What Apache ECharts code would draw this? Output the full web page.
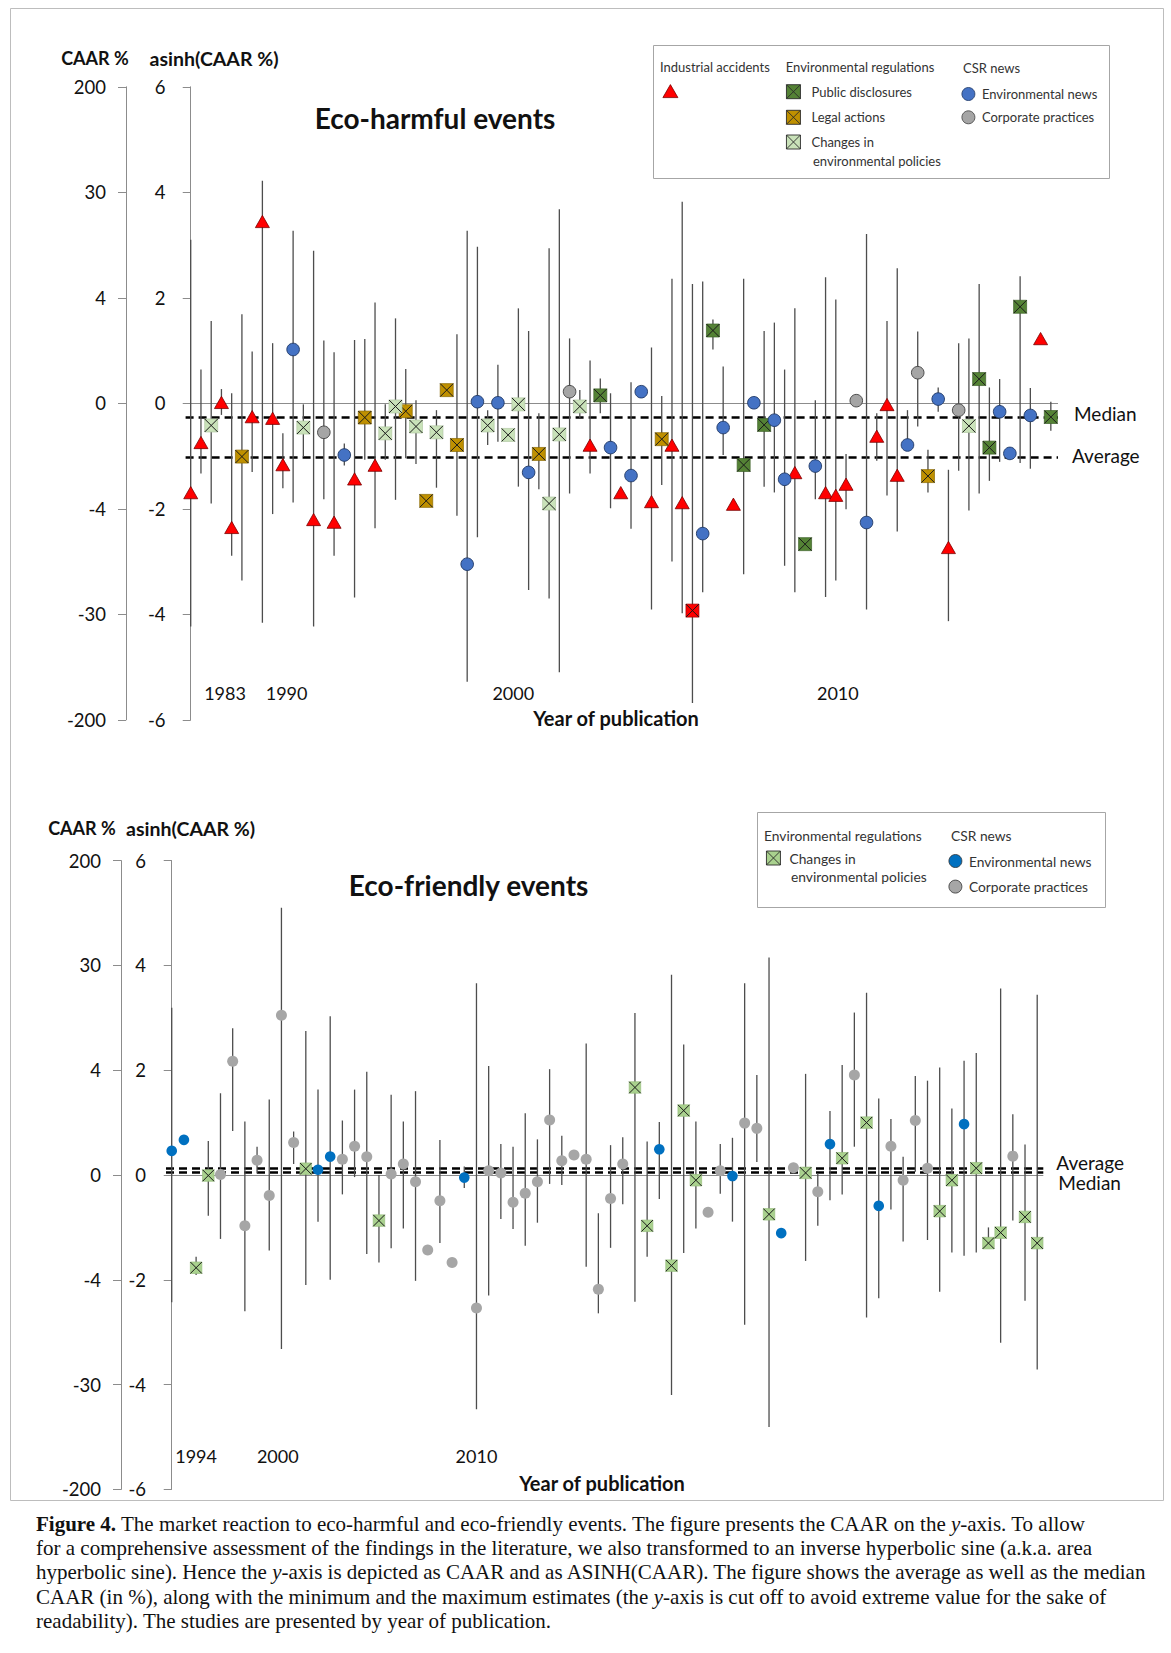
<!DOCTYPE html>
<html><head><meta charset="utf-8">
<script src="https://cdn.jsdelivr.net/npm/echarts@6/dist/echarts.min.js"></script>
<style>
html,body{margin:0;padding:0;background:#fff;}
#chart{position:absolute;left:0;top:0;width:1171px;height:1653px;}
#caption{position:absolute;left:36px;top:1512px;font-family:"Liberation Serif","DejaVu Serif",serif;font-size:21px;line-height:24.2px;color:#111;white-space:nowrap;}
</style></head><body>
<div id="chart"></div>
<div id="caption">
<div><b>Figure 4.</b> The market reaction to eco-harmful and eco-friendly events. The figure presents the CAAR on the <i>y</i>-axis. To allow</div>
<div>for a comprehensive assessment of the findings in the literature, we also transformed to an inverse hyperbolic sine (a.k.a. area</div>
<div>hyperbolic sine). Hence the <i>y</i>-axis is depicted as CAAR and as ASINH(CAAR). The figure shows the average as well as the median</div>
<div>CAAR (in %), along with the minimum and the maximum estimates (the <i>y</i>-axis is cut off to avoid extreme value for the sake of</div>
<div>readability). The studies are presented by year of publication.</div>
</div>
<script>
// ---------- Y axis ticks ----------
const asinhTicks = [-6, -4, -2, 0, 2, 4, 6];
const caarTicks  = ['-200', '-30', '-4', '0', '4', '30', '200'];

// ---------- Eco-harmful events (asinh of CAAR %) ----------
// A = industrial accident, P = public disclosure, L = legal action,
// C = change in environmental policy, N = environmental news, K = corporate practice, R = accident (square)
const harmType = ['A','A','C','A','A','L','A','A','A','A', 'N','C','A','K','A','N','A','L','A','C',
                  'C','L','C','L','C','L','L','N','N','C', 'N','C','C','N','L','C','C','K','C','A',
                  'P','N','A','N','N','A','L','A','A','R', 'N','P','N','A','P','N','P','N','N','A',
                  'P','N','A','A','A','K','N','A','A','A', 'N','K','L','N','A','K','C','P','P','N',
                  'N','P','N','A','P'];
const harmCAAR = [-1.71,-0.76,-0.42,0.00,-2.37,-1.01,-0.27,3.43,-0.30,-1.18,
                  1.02,-0.46,-2.22,-0.55,-2.27,-0.98,-1.45,-0.27,-1.19,-0.57,
                  -0.06,-0.15,-0.44,-1.85,-0.55,0.25,-0.79,-3.05,0.03,-0.42,
                  0.01,-0.60,-0.02,-1.31,-0.96,-1.90,-0.59,0.22,-0.06,-0.81,
                  0.15,-0.84,-1.71,-1.37,0.22,-1.88,-0.68,-0.81,-1.90,-3.93,
                  -2.47,1.38,-0.46,-1.93,-1.17,0.01,-0.41,-0.32,-1.44,-1.33,
                  -2.67,-1.19,-1.71,-1.76,-1.55,0.05,-2.26,-0.64,-0.04,-1.38,
                  -0.79,0.58,-1.38,0.08,-2.75,-0.13,-0.43,0.46,-0.84,-0.16,
                  -0.95,1.83,-0.23,1.21,-0.26];
const harmMax  = [3.10,0.64,1.56,0.27,0.19,1.69,0.98,4.22,1.14,-0.57,
                  3.27,-0.02,2.89,1.19,0.97,-0.76,1.20,1.22,1.91,-0.02,
                  1.61,0.65,0.06,null,-0.13,null,1.31,3.27,2.97,-0.13,
                  0.73,null,1.80,1.37,-0.19,2.94,3.68,1.23,0.25,0.81,
                  0.47,0.19,null,0.40,null,1.06,0.14,2.36,3.82,2.26,
                  2.31,1.59,0.70,null,2.36,null,1.37,1.53,0.64,1.80,
                  null,0.06,2.39,1.97,-0.96,null,3.21,-0.19,1.56,2.56,
                  -0.13,1.36,-0.88,0.30,-1.26,1.14,1.23,2.26,0.30,0.46,
                  null,2.41,0.29,null,0.03];
const harmMin  = [-4.23,-1.33,-1.90,-0.22,-2.89,-3.36,-1.30,-4.16,-2.10,-1.61,
                  -1.88,-1.01,-4.23,-1.82,-2.89,-1.18,-3.68,-1.07,-2.37,-1.07,
                  -1.83,-1.04,-1.15,null,-1.60,null,-2.13,-5.28,-2.54,-0.79,
                  -0.73,null,-1.58,-3.54,-1.63,-3.70,-5.10,-1.71,-0.28,-1.33,
                  -0.19,-1.99,null,-2.38,null,-3.91,-1.55,-3.00,-3.98,-5.68,
                  -3.58,1.02,-0.98,null,-3.24,null,-1.58,-1.69,-3.08,-3.58,
                  null,-1.82,-3.67,-3.36,-2.01,null,-3.91,-1.09,-1.75,-2.43,
                  -0.88,-0.44,-1.69,-0.16,-4.13,-1.28,-2.03,-1.71,-1.47,-1.11,
                  null,-1.13,-1.24,null,-0.52];
const harmMedian = -0.27;
const harmAverage = -1.02;
const harmYears = ['1983', '1990', '2000', '2010'];
const harmYearPos = [3.35, 9.36, 31.5, 63.2];

// ---------- Eco-friendly events ----------
const friendType = ['N','N','C','C','K','K','K','K','K','K', 'K','C','N','N','K','K','K','C','K','K',
                    'K','K','K','K','N','K','K','K','K','K', 'K','K','K','K','K','K','K','K','C','C',
                    'N','C','C','C','K','K','N','K','K','C', 'N','K','C','K','N','C','K','C','N','K',
                    'K','K','K','C','C','N','C','C','C','K', 'C','C'];
const friendCAAR = [0.46,0.67,-1.77,-0.01,0.01,2.17,-0.97,0.28,-0.39,3.05,
                    0.62,0.12,0.10,0.35,0.30,0.55,0.35,-0.87,0.02,0.21,
                    -0.13,-1.43,-0.49,-1.67,-0.05,-2.54,0.08,0.04,-0.52,-0.35,
                    -0.13,1.05,0.27,0.38,0.30,-2.18,-0.45,0.21,1.67,-0.97,
                    0.49,-1.73,1.23,-0.10,-0.71,0.08,-0.02,0.99,0.89,-0.75,
                    -1.11,0.14,0.04,-0.32,0.59,0.32,1.91,1.00,-0.59,0.55,
                    -0.10,1.04,0.13,-0.69,-0.10,0.97,0.13,-1.30,-1.10,0.36,
                    -0.80,-1.30];
const friendMax  = [3.19,null,-1.56,0.65,1.56,2.80,1.02,0.54,1.44,5.10,
                    0.83,2.75,1.63,3.03,1.04,1.63,1.97,0.00,1.53,1.02,
                    1.60,null,0.67,null,0.16,3.66,2.08,0.59,0.54,1.18,
                    0.68,2.02,0.75,null,2.51,-0.73,0.57,0.72,3.09,0.64,
                    1.01,3.82,2.49,1.02,null,0.59,0.71,3.66,1.91,4.15,
                    null,0.22,1.93,0.04,1.22,2.10,3.10,3.48,1.46,1.07,
                    0.35,1.89,1.80,2.05,1.27,2.18,2.33,-1.00,3.56,1.16,
                    0.58,3.44];
const friendMin  = [-2.43,null,-1.91,-0.78,-1.22,0.84,-2.60,0.03,-1.44,-3.32,
                    0.21,-2.10,-0.89,-2.00,-0.37,-0.04,-1.51,-1.67,-1.40,-1.02,
                    -2.02,null,-1.30,null,-0.25,-4.47,-2.30,-0.84,-1.03,-1.35,
                    -0.91,-0.17,-0.19,null,-1.75,-2.64,-1.39,-0.56,-2.42,-1.56,
                    -0.46,-4.20,-1.49,-1.02,null,-0.36,-0.89,-2.86,0.25,-4.81,
                    null,0.06,-1.64,-0.97,-0.48,-0.37,0.54,-2.72,-2.35,-0.66,
                    -1.27,0.06,-1.24,-2.23,-1.48,-1.54,-1.48,-1.30,-3.20,-0.87,
                    -2.40,-3.71];
const friendMedian = 0.05;
const friendAverage = 0.13;
const friendYears = ['1994', '2000', '2010'];
const friendYearPos = [2.0, 8.7, 25.0];

// ---------- styles ----------
const SANS = 'Lato, "Open Sans", "DejaVu Sans", sans-serif';
const WHISKER = '#4d4d4d';
const styles = {
  top: {
    A: {shape: 'tri', fill: '#FF0000', stroke: '#7a0000', size: 14},
    P: {shape: 'sqx', fill: '#548235', stroke: '#3e6128', size: 13},
    L: {shape: 'sqx', fill: '#BF9000', stroke: '#8a6800', size: 13},
    C: {shape: 'sqx', fill: '#C9E2B9', stroke: '#b2c9a4', size: 13},
    N: {shape: 'circ', fill: '#4472C4', stroke: '#1f3864', size: 12.6},
    K: {shape: 'circ', fill: '#A5A5A5', stroke: '#404040', size: 12.6},
    R: {shape: 'sqx', fill: '#FF0000', stroke: '#a00000', size: 13}
  },
  bot: {
    C: {shape: 'sqx', fill: '#A9D18E', stroke: '#98bf7e', size: 11.5},
    N: {shape: 'circ', fill: '#0070C0', stroke: null, size: 10.6},
    K: {shape: 'circ', fill: '#A6A6A6', stroke: null, size: 11}
  }
};
const names = {
  top: {A: 'Industrial accidents', P: 'Public disclosures', L: 'Legal actions',
        C: 'Changes in environmental policies', N: 'Environmental news', K: 'Corporate practices',
        R: 'Industrial accidents (square)'},
  bot: {C: 'Eco-friendly: Changes in environmental policies', N: 'Eco-friendly: Environmental news',
        K: 'Eco-friendly: Corporate practices'}
};
const display = {
  'Industrial accidents': '', 'Public disclosures': 'Public disclosures', 'Legal actions': 'Legal actions',
  'Changes in environmental policies': 'Changes in',
  'Environmental news': 'Environmental news', 'Corporate practices': 'Corporate practices',
  'Eco-friendly: Changes in environmental policies': 'Changes in',
  'Eco-friendly: Environmental news': 'Environmental news',
  'Eco-friendly: Corporate practices': 'Corporate practices'
};

function makeRender(st) {
  return function (params, api) {
    const x = api.value(0), v = api.value(1), hi = api.value(2), lo = api.value(3);
    const p = api.coord([x, v]);
    const ch = [];
    if (hi !== lo) {
      const a = api.coord([x, hi]), b = api.coord([x, lo]);
      ch.push({type: 'line', shape: {x1: a[0], y1: a[1], x2: b[0], y2: b[1]},
               style: {stroke: WHISKER, lineWidth: 1.3}});
    }
    const s = st.size, h = s / 2;
    if (st.shape === 'tri') {
      ch.push({type: 'polygon', shape: {points: [[p[0], p[1] - h], [p[0] + h, p[1] + h * 0.75], [p[0] - h, p[1] + h * 0.75]]},
               style: {fill: st.fill, stroke: st.stroke, lineWidth: 0.8}});
    } else if (st.shape === 'circ') {
      ch.push({type: 'circle', shape: {cx: p[0], cy: p[1], r: h},
               style: {fill: st.fill, stroke: st.stroke || null, lineWidth: st.stroke ? 0.9 : 0}});
    } else {
      ch.push({type: 'rect', shape: {x: p[0] - h, y: p[1] - h, width: s, height: s},
               style: {fill: st.fill, stroke: st.stroke, lineWidth: 0.7}});
      ch.push({type: 'line', shape: {x1: p[0] - h, y1: p[1] - h, x2: p[0] + h, y2: p[1] + h}, style: {stroke: '#1a1a1a', lineWidth: 1}});
      ch.push({type: 'line', shape: {x1: p[0] + h, y1: p[1] - h, x2: p[0] - h, y2: p[1] + h}, style: {stroke: '#1a1a1a', lineWidth: 1}});
    }
    return {type: 'group', children: ch};
  };
}

function buildSeries(key, types, vals, maxs, mins, xi, yi) {
  const out = [];
  const codes = Object.keys(styles[key]);
  codes.forEach(function (c) {
    const data = [];
    types.forEach(function (t, i) {
      if (t !== c) return;
      const hi = maxs[i] == null ? vals[i] : maxs[i];
      const lo = mins[i] == null ? vals[i] : mins[i];
      data.push([i, vals[i], hi, lo]);
    });
    out.push({
      type: 'custom', name: names[key][c], xAxisIndex: xi, yAxisIndex: yi, z: 5,
      itemStyle: {color: styles[key][c].fill},
      encode: {x: 0, y: 1}, clip: false,
      renderItem: makeRender(styles[key][c]), data: data
    });
  });
  return out;
}

function refSeries(xi, yi, median, average) {
  const dash = {color: '#000', width: 2.6, type: [8, 5]};
  return {
    type: 'custom', name: 'ref' + xi, xAxisIndex: xi, yAxisIndex: yi, z: 2, data: [],
    renderItem: function () { return {type: 'group', children: []}; },
    markLine: {
      silent: true, symbol: ['none', 'none'], animation: false, label: {show: false},
      data: [
        {yAxis: 0, lineStyle: {color: '#8c8c8c', width: 1, type: 'solid'}},
        {yAxis: median, lineStyle: dash},
        {yAxis: average, lineStyle: dash}
      ]
    }
  };
}

function xAxisFor(grid, min, max, years, pos, margin) {
  return {
    type: 'value', gridIndex: grid, min: min, max: max,
    axisLine: {show: false}, axisTick: {show: false}, splitLine: {show: false},
    axisLabel: {
      inside: true, margin: margin, fontSize: 18, fontFamily: SANS, color: '#111',
      customValues: pos,
      formatter: function (v) {
        for (let k = 0; k < pos.length; k++) if (Math.abs(pos[k] - v) < 1e-6) return years[k];
        return '';
      }
    }
  };
}
function yAxesFor(grid, offsetCaar) {
  const common = {
    type: 'value', gridIndex: grid, min: -6, max: 6, interval: 2, position: 'left',
    axisLine: {show: true, lineStyle: {color: '#8c8c8c', width: 1}},
    axisTick: {show: true, length: 8, lineStyle: {color: '#8c8c8c'}},
    splitLine: {show: false}
  };
  return [
    Object.assign({}, common, {axisLabel: {margin: 20, fontSize: 18.5, fontFamily: SANS, color: '#111'}}),
    Object.assign({}, common, {offset: offsetCaar, axisLabel: {margin: 20, fontSize: 18.5, fontFamily: SANS, color: '#111',
      formatter: function (v) { return caarTicks[asinhTicks.indexOf(v)]; }}})
  ];
}

const sqxIcon = 'path://M0,0H20V20H0Z M0,0L20,20 M20,0L0,20';
const iconOf = {tri: 'triangle', sqx: sqxIcon, circ: 'circle'};
function LI(key, code, cx, cy, w, h, fs, padLeft) {
  const st = styles[key][code];
  const border = st.shape === 'sqx' ? '#2a2a2a' : (st.stroke || '#333');
  return {
    left: cx - w / 2, top: cy - 7.5, orient: 'vertical', itemWidth: w, itemHeight: h, padding: 0,
    selectedMode: false, formatter: function (n) { return display[n]; },
    textStyle: {fontSize: fs, fontFamily: SANS, color: '#333', lineHeight: 15, padding: [0, 0, 0, padLeft]},
    data: [{name: names[key][code], icon: iconOf[st.shape],
            itemStyle: {color: st.fill, borderColor: border, borderWidth: st.shape === 'sqx' ? 0.9 : 0.8}}]
  };
}

const legends = [
  LI('top', 'A', 670, 91.7, 15, 13, 13, 0),
  LI('top', 'P', 793, 91.7, 14, 14, 13, 6),
  LI('top', 'L', 793, 117.3, 14, 14, 13, 6),
  LI('top', 'C', 793, 142, 14, 14, 13, 6),
  LI('top', 'N', 968, 94, 13, 13, 13, 2),
  LI('top', 'K', 968, 117.3, 13, 13, 13, 2),
  LI('bot', 'C', 773, 858, 14, 14, 13.8, 4),
  LI('bot', 'N', 955, 861, 13, 13, 13.8, 2),
  LI('bot', 'K', 955, 886.6, 13, 13, 13.8, 2)
];

function T(text, x, y, fs, weight, align, color) {
  return {type: 'text', x: x, y: y, silent: true,
    style: {text: text, fontSize: fs, fontFamily: SANS, fontWeight: weight || 'normal', fill: color || '#111',
            align: align || 'center', verticalAlign: 'middle'}};
}

const graphics = [
  {type: 'rect', shape: {x: 10.5, y: 8.5, width: 1153, height: 1492}, style: {fill: 'none', stroke: '#bdbdbd', lineWidth: 1}, silent: true, z: -1},
  {type: 'rect', shape: {x: 653.5, y: 45.5, width: 456, height: 133}, style: {fill: '#fff', stroke: '#a6a6a6', lineWidth: 1}, silent: true, z: -1},
  {type: 'rect', shape: {x: 757.5, y: 812.5, width: 348, height: 95}, style: {fill: '#fff', stroke: '#a6a6a6', lineWidth: 1}, silent: true, z: -1},
  T('Industrial accidents', 660, 66.7, 13, 'normal', 'left', '#333'),
  T('Environmental regulations', 785.7, 66.7, 13, 'normal', 'left', '#333'),
  T('environmental policies', 813, 160.7, 13, 'normal', 'left', '#333'),
  T('CSR news', 963, 68, 13, 'normal', 'left', '#333'),
  T('Environmental regulations', 764, 835, 13.8, 'normal', 'left', '#333'),
  T('environmental policies', 791, 876, 13.8, 'normal', 'left', '#333'),
  T('CSR news', 951, 835, 13.8, 'normal', 'left', '#333'),
  T('CAAR %', 95, 58, 18, 'bold'),
  T('asinh(CAAR %)', 214, 58, 19.5, 'bold'),
  T('CAAR %', 82, 828, 18, 'bold'),
  T('asinh(CAAR %)', 190.6, 828, 19.5, 'bold'),
  T('Eco-harmful events', 435, 118, 28, 'bold'),
  T('Eco-friendly events', 468.6, 884.5, 28, 'bold'),
  T('Year of publication', 616, 718, 20, 'bold'),
  T('Year of publication', 602, 1483, 20, 'bold')
];

const chart = echarts.init(document.getElementById('chart'), null, {renderer: 'svg'});
chart.setOption({
  animation: false,
  backgroundColor: '#fff',
  grid: [
    {left: 185.6, top: 86.8, width: 872.4, height: 633, outerBoundsMode: 'none', containLabel: false},
    {left: 166, top: 860.6, width: 877.3, height: 628.8, outerBoundsMode: 'none', containLabel: false}
  ],
  xAxis: [
    xAxisFor(0, -0.5, 84.7, harmYears, harmYearPos, 18),
    xAxisFor(1, -0.47, 71.5, friendYears, friendYearPos, 24)
  ],
  yAxis: yAxesFor(0, 59.6).concat(yAxesFor(1, 45)),
  legend: legends,
  graphic: graphics,
  series: [
    refSeries(0, 0, harmMedian, harmAverage),
    refSeries(1, 2, friendMedian, friendAverage)
  ].concat(buildSeries('top', harmType, harmCAAR, harmMax, harmMin, 0, 0))
   .concat(buildSeries('bot', friendType, friendCAAR, friendMax, friendMin, 1, 2))
});

// Median / Average labels placed next to the reference lines via the axis scales
const topEnd = chart.convertToPixel({xAxisIndex: 0}, 84.7);
const botEnd = chart.convertToPixel({xAxisIndex: 1}, 71.5);
const yTM = chart.convertToPixel({yAxisIndex: 0}, harmMedian);
const yTA = chart.convertToPixel({yAxisIndex: 0}, harmAverage);
const yBM = chart.convertToPixel({yAxisIndex: 2}, friendMedian);
const yBA = chart.convertToPixel({yAxisIndex: 2}, friendAverage);
chart.setOption({graphic: graphics.concat([
  T('Median', topEnd + 16, yTM - 4.5, 19, 'normal', 'left'),
  T('Average', topEnd + 14, yTA - 2, 19, 'normal', 'left'),
  T('Average', botEnd + 13, yBA - 6, 19, 'normal', 'left'),
  T('Median', botEnd + 15, yBM + 10, 19, 'normal', 'left')
])});
</script>
</body></html>
